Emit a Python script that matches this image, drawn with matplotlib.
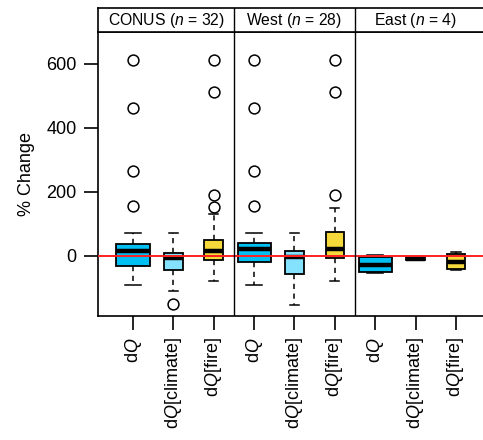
import matplotlib
matplotlib.use("Agg")
import matplotlib.pyplot as plt

plt.rcParams['font.family'] = ['Liberation Sans', 'DejaVu Sans']
plt.rcParams['mathtext.fontset'] = 'custom'
plt.rcParams['mathtext.rm'] = 'Liberation Sans'
plt.rcParams['mathtext.it'] = 'Liberation Sans:italic'

# ---- data ----
regions = ['CONUS', 'West', 'East']
region_n = [32, 28, 4]
components = ['dQ', 'dQ[climate]', 'dQ[fire]']
tick_labels = [r'd$Q$', r'd$Q$[climate]', r'd$Q$[fire]'] * 3

whislo = [-91, -109, -80,   -91, -152, -80,   -53, -14, -44]
q1     = [-32, -43, -13,    -18, -56, -6,     -50, -12, -41]
med    = [16, -6, 14,       20, -5, 20,       -28, -9, -18]
q3     = [36, 10, 49,       40, 15, 75,       -2, -5, 5]
whishi = [71, 73, 130,      71, 73, 151,      3, -4, 13]
fliers = [[157, 266, 463, 612], [-151], [152, 191, 511, 611],
          [157, 266, 463, 612], [], [191, 511, 611],
          [], [], []]

colors = ['#00BFF3', '#84E2FF', '#F5D83A'] * 3
widths = [0.82, 0.46, 0.46] * 3

# ---- figure ----
fig = plt.figure(figsize=(4.83, 4.40), dpi=100)
W, H = 483, 440
ax_l, ax_r, ax_t, ax_b = 98.3, 483, 32.3, 315.7
ax = fig.add_axes([ax_l / W, 1 - ax_b / H, (ax_r - ax_l) / W, (ax_b - ax_t) / H])

stats = []
for i in range(9):
    stats.append(dict(whislo=whislo[i], q1=q1[i], med=med[i], q3=q3[i],
                      whishi=whishi[i], fliers=fliers[i]))

positions = list(range(1, 10))
for i in range(9):
    ax.bxp([stats[i]], positions=[positions[i]], widths=widths[i],
           patch_artist=True, showfliers=True,
           boxprops=dict(facecolor=colors[i], edgecolor='black', linewidth=1.3),
           medianprops=dict(color='black', linewidth=3.2, solid_capstyle='butt'),
           whiskerprops=dict(color='black', linewidth=1.1, dashes=(3.4, 3.0)),
           capprops=dict(color='black', linewidth=1.1),
           capwidths=widths[i] / 2,
           flierprops=dict(marker='o', markerfacecolor='none',
                           markeredgecolor='black', markersize=7.8,
                           markeredgewidth=1.1))

ax.axhline(0, color='#FF2020', linewidth=1.4, zorder=5)
for xd in [3.5, 6.5]:
    ax.axvline(xd, color='black', linewidth=1.0, zorder=6)

ax.set_xlim(0.14, 9.67)
ax.set_ylim(-187, 699)
ax.set_yticks([0, 200, 400, 600])
ax.set_xticks(positions)
ax.set_xticklabels(tick_labels, rotation=90, fontsize=13)
ax.tick_params(axis='both', direction='out', length=10, width=1.2, labelsize=13, pad=5.5)
ax.set_ylabel('% Change', fontsize=13, labelpad=8)
for s in ['left', 'bottom', 'top']:
    ax.spines[s].set_linewidth(1.2)
ax.spines['right'].set_visible(False)

# ---- strip ----
st_t, st_b = 8.3, 32.3
sax = fig.add_axes([ax_l / W, 1 - st_b / H, (ax_r - ax_l) / W, (st_b - st_t) / H])
sax.set_xlim(0.14, 9.67)
sax.set_ylim(0, 1)
sax.set_xticks([])
sax.set_yticks([])
for s in ['left', 'bottom', 'top']:
    sax.spines[s].set_linewidth(1.2)
sax.spines['right'].set_visible(False)
for xd in [3.5, 6.5]:
    sax.axvline(xd, color='black', linewidth=1.0)
centers = [(0.14 + 3.5) / 2, 5.0, 8.0]
for r, n, c in zip(regions, region_n, centers):
    sax.text(c, 0.48, r + r' ($n$ = ' + str(n) + ')', ha='center', va='center',
             fontsize=11.3)

fig.savefig('out.png', dpi=100)
